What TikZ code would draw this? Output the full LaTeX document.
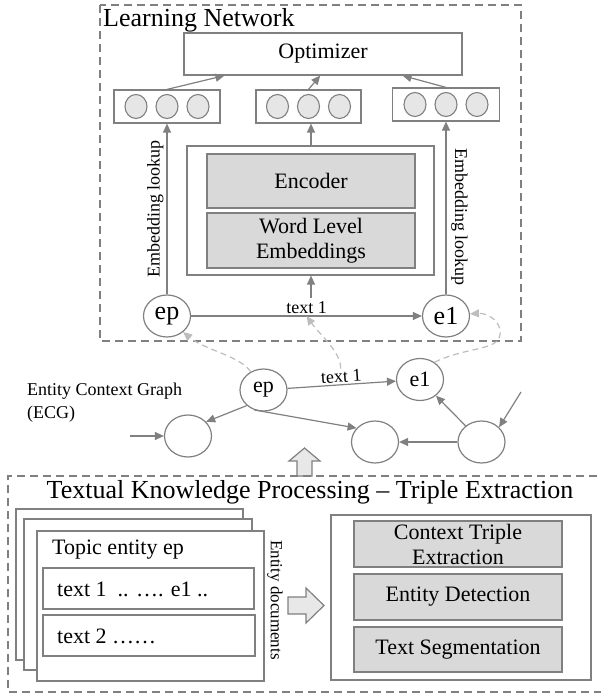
\documentclass[tikz,border=0pt]{standalone}
\usepackage{fontspec}
\setmainfont{Liberation Serif}
\usetikzlibrary{arrows.meta,shapes.geometric,calc}
\definecolor{ln}{HTML}{808080}
\definecolor{dl}{HTML}{BDBDBD}
\definecolor{fillg}{HTML}{D9D9D9}
\definecolor{fillc}{HTML}{E6E6E6}
\definecolor{fillb}{HTML}{E8E8E8}
\tikzset{
  box/.style={draw=ln, line width=1.2pt, fill=white, inner sep=0pt},
  gbox/.style={draw=ln, line width=1.2pt, fill=fillg, inner sep=0pt, align=center},
  dbox/.style={draw=ln, line width=1.2pt, dash pattern=on 8pt off 5pt},
  arr/.style={draw=ln, line width=1.2pt, -{Triangle[length=9pt,width=8pt]}},
  darr/.style={draw=dl, line width=1.2pt, dash pattern=on 6pt off 4pt, -{Triangle[length=9pt,width=8pt]}},
  ent/.style={ellipse, draw=ln, line width=1.2pt, fill=white, minimum width=47pt, minimum height=42pt, inner sep=0pt},
  unitc/.style={ellipse, draw=ln, line width=1.1pt, fill=fillc, minimum width=22pt, minimum height=24pt, inner sep=0pt},
  blk/.style={draw=ln, line width=1.2pt, fill=fillb},
  fa/.style={font=\fontsize{26}{28}\selectfont},
  fb/.style={font=\fontsize{22}{25}\selectfont},
  fc/.style={font=\fontsize{18}{23}\selectfont},
  fd/.style={font=\fontsize{17}{20}\selectfont},
}
\begin{document}
\begin{tikzpicture}[x=1pt,y=-1pt]
\useasboundingbox (0,0) rectangle (600,696);

% ---------------- Learning Network ----------------
\draw[dbox] (100,5) rectangle (521,341);
\node[fa, anchor=base west, inner sep=0pt] (lnt) at (103,27) {Learning Network};

\node[box, fb, minimum width=278pt, minimum height=42pt] (opt) at (323,54) {Optimizer};

\node[box, minimum width=106pt, minimum height=33pt] (emb1) at (167,106.5) {};
\node[box, minimum width=105pt, minimum height=33pt] (emb2) at (308.5,106.5) {};
\node[box, minimum width=107pt, minimum height=33pt] (emb3) at (446,104.5) {};
\foreach \e in {1,2,3}{
  \node[unitc] (u\e a) at ($(emb\e)+(-31,0)$) {};
  \node[unitc] (u\e b) at (emb\e) {};
  \node[unitc] (u\e c) at ($(emb\e)+(31,0)$) {};
}

\node[box, minimum width=247pt, minimum height=129pt] (encouter) at (310.5,210.5) {};
\node[gbox, fb, minimum width=208pt, minimum height=54pt] (enc) at (311,181) {Encoder};
\node[gbox, fb, minimum width=208pt, minimum height=55pt] (wle) at (311,240.5) {Word Level\\Embeddings};

\node[ent, fa] (ep1) at (167,316) {ep};
\node[ent, fa] (e1a) at (446,316) {e1};

\draw[arr] (ep1) -- coordinate[pos=0.5] (m1) node[midway, above, fc, inner sep=2pt] (t1a) {text 1} (e1a);
\coordinate (t1src) at (311,298);
\draw[arr] (t1src) -- (encouter.south -| t1src);
\draw[arr] (encouter.north -| t1src) -- (emb2.south -| t1src);

\draw[arr] (ep1) -- node[midway, above, sloped, fc, inner sep=3pt] (ell) {Embedding lookup} (emb1);
\draw[arr] (e1a) -- (emb3);
\node[fc, rotate=-90] (elr) at (459.5,217) {Embedding lookup};

\draw[arr] (emb1.north) -- ($(opt.south west)!0.147!(opt.south east)$);
\draw[arr] (emb2.north) -- ($(opt.south west)!0.49!(opt.south east)$);
\draw[arr] (emb3.north) -- ($(opt.south west)!0.785!(opt.south east)$);

% ---------------- Entity Context Graph ----------------
\node[fc, anchor=west, align=left, inner sep=0pt] (ecg) at (27,403) {Entity Context Graph\\(ECG)};

\node[ent, fb] (ep2) at (263.5,390) {ep};
\node[ent, fb] (e1b) at (420,379.5) {e1};
\node[ent] (c1) at (188,436) {};
\node[ent] (c2) at (375,442) {};
\node[ent] (c3) at (481.5,442) {};
\coordinate (in1) at (130,436);
\coordinate (in3) at (521,392);

\draw[arr] (ep2) -- node[midway, above, sloped, fc, inner sep=1.5pt] (t1b) {text 1} (e1b);
\draw[arr] (ep2.-137) -- (c1.38);
\draw[arr] (ep2.-115) -- (c2.143);
\draw[arr] (c3) -- (c2);
\draw[arr] (c3) -- (e1b);
\draw[arr] (in3) -- (c3.40);
\draw[arr] (in1) -- (c1);

\draw[darr] (ep2.125) .. controls (240,356) and (205,350) .. (ep1.-45);
\draw[darr] (t1b.north) .. controls (341,352) and (320,335) .. (m1);
\draw[darr] (e1b.50) .. controls (470,345) and (503,352) .. (500,330) .. controls (498,318) and (485,313) .. (e1a.5);

% block arrow up
\draw[blk] (297,476) -- (297,461) -- (289,461) -- (304.5,448) -- (320,461) -- (312,461) -- (312,476) -- cycle;

% ---------------- Textual Knowledge Processing ----------------
\draw[dbox] (610,476) -- (8,476) -- (8,692) -- (610,692);
\node[fa] (tkp) at (310,492) {Textual Knowledge Processing – Triple Extraction};

\draw[box] (16,509) rectangle (243,660);
\draw[box] (24,519) rectangle (252,670);
\node[box, minimum width=227pt, minimum height=150pt] (doc) at (150.5,606) {};
\node[fb, anchor=west, inner sep=0pt] (topic) at (52,550) {Topic entity ep};
\node[box, minimum width=211pt, minimum height=41pt] (tx1) at (148.5,588.5) {};
\node[box, minimum width=212pt, minimum height=41pt] (tx2) at (149,635.5) {};
\node[fb, anchor=west, inner sep=0pt] at (57,589) {text 1\ \ .. …. e1 ..};
\node[fb, anchor=west, inner sep=0pt] at (57,636) {text 2 ……};
\node[fd, rotate=-90] (edoc) at (275,600) {Entity documents};

% block arrow right
\draw[blk] (288,597) -- (306,597) -- (306,588) -- (324,605.5) -- (306,623) -- (306,614) -- (288,614) -- cycle;

\node[box, minimum width=260pt, minimum height=165pt] (proc) at (461,597.5) {};
\node[gbox, fb, minimum width=208pt, minimum height=46pt] (cte) at (458,544) {Context Triple\\Extraction};
\node[gbox, fb, minimum width=208pt, minimum height=46pt] (ed) at (458,597) {Entity Detection};
\node[gbox, fb, minimum width=208pt, minimum height=45pt] (ts) at (458,649.5) {Text Segmentation};
\end{tikzpicture}
\end{document}
